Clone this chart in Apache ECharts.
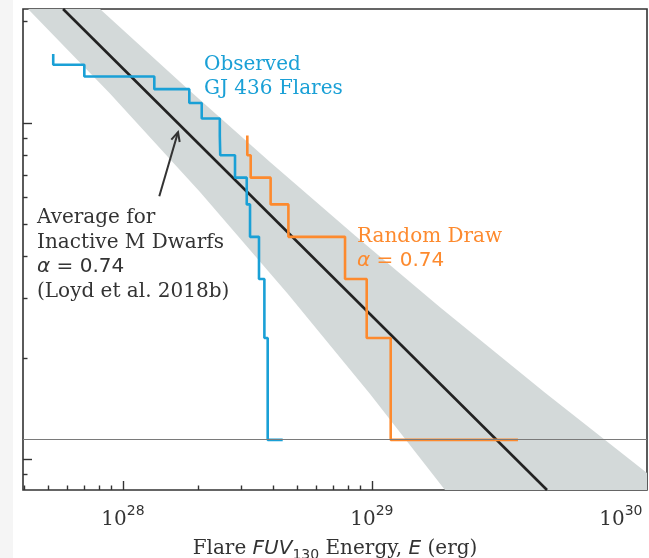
<!DOCTYPE html>
<html><head><meta charset="utf-8">
<script src="https://cdn.jsdelivr.net/npm/echarts@6/dist/echarts.min.js"></script>
<style>html,body{margin:0;padding:0;background:#fff}#c{width:649px;height:558px}</style>
</head><body><div id="c"></div><script>
// ---- data (energies in erg, cumulative frequencies in d^-1) ----
const xMajorTicks = [1e28, 1e29, 1e30];
const xTickExponents = ['28', '29', '30'];
const yMajorTicks = [1, 10];
const xRange = [3.97e27, 1.273e30];
const yRange = [0.809, 21.8];

const obsEnergy = [5.25e27, 7.0e27, 1.337e28, 1.848e28, 2.073e28, 2.45e28, 2.46e28, 2.82e28, 3.143e28, 3.24e28, 3.52e28, 3.70e28, 3.815e28, 4.383e28];
const obsFreq   = [16.02, 14.88, 13.73, 12.59, 11.45, 10.30, 9.16, 8.01, 6.87, 5.72, 4.58, 3.43, 2.29, 1.14];

const drawEnergy = [3.16e28, 3.26e28, 3.92e28, 4.62e28, 7.80e28, 9.53e28, 1.19e29, 3.86e29];
const drawFreq   = [9.16, 8.01, 6.87, 5.72, 4.58, 3.43, 2.29, 1.14];

const avgEnergy = [5.75e27, 5.05e29];
const avgFreq   = [21.8, 0.809];

// band outline (upper edge left->right, corner, lower edge right->left)
const bandEnergy = [8.09e27, 1.776e28, 3.897e28, 8.55e28, 1.877e29, 4.96e29, 1.273e30, 1.273e30, 1.966e29, 9.83e28, 4.60e28, 2.04e28, 8.87e27, 4.16e27];
const bandFreq   = [21.8, 12.82, 7.64, 4.62, 2.83, 1.575, 0.909, 0.809, 0.809, 1.561, 3.097, 6.23, 12.22, 21.8];

const singleFlareFreq = 1.1445;
const arrowEnergy = [1.40e28, 1.665e28];
const arrowFreq   = [6.05, 9.38];

// ---- chart ----
const L = Math.log10;
const minorList = (lo, hi) => { const out = []; for (let n = -2; n <= 31; n++) for (let k = 2; k <= 9; k++) { const v = L(k) + n; if (v > lo && v < hi) out.push(v); } return out; };
const xMin = L(xRange[0]), xMax = L(xRange[1]), yMin = L(yRange[0]), yMax = L(yRange[1]);
const tickStyle = {color: '#333', width: 1.4};
const serif = 'DejaVu Serif', sans = 'DejaVu Sans';
const noLine = {show: false, onZero: false};

const chart = echarts.init(document.getElementById('c'), null, {renderer: 'canvas'});
const option = {
  animation: false,
  backgroundColor: '#fff',
  grid: {left: 23, right: 2, top: 9, bottom: 68, show: true, borderColor: '#333', borderWidth: 1.6,
         backgroundColor: 'transparent', containLabel: false, outerBoundsMode: 'none'},
  xAxis: [
    {type: 'value', min: xMin, max: xMax, position: 'bottom', axisLine: noLine, splitLine: {show: false},
     axisTick: {show: true, inside: true, length: 9, lineStyle: tickStyle, customValues: xMajorTicks.map(L)},
     axisLabel: {show: true, margin: 14, customValues: xMajorTicks.map(L),
       formatter: v => '{b|10}{s|' + xTickExponents[xMajorTicks.map(L).findIndex(t => Math.abs(t - v) < 1e-6)] + '}',
       rich: {b: {fontFamily: serif, fontSize: 20, color: '#333', lineHeight: 26, verticalAlign: 'bottom'},
              s: {fontFamily: sans, fontSize: 14, color: '#333', lineHeight: 26, verticalAlign: 'top'}}},
     name: '{a|Flare }{i|FUV}{u|130}{a| Energy, }{i|E}{a| (erg)}', nameLocation: 'middle', nameGap: 46,
     nameTextStyle: {rich: {a: {fontFamily: serif, fontSize: 20, color: '#333', lineHeight: 26},
                            i: {fontFamily: sans, fontStyle: 'italic', fontSize: 20, color: '#333', lineHeight: 26},
                            u: {fontFamily: sans, fontSize: 14, color: '#333', lineHeight: 14, verticalAlign: 'bottom'}}}},
    {type: 'value', min: xMin, max: xMax, position: 'bottom', axisLine: noLine, splitLine: {show: false},
     axisTick: {show: true, inside: true, length: 4.5, lineStyle: tickStyle, customValues: minorList(xMin, xMax)},
     axisLabel: {show: false}}
  ],
  yAxis: [
    {type: 'value', min: yMin, max: yMax, position: 'left', axisLine: noLine, splitLine: {show: false},
     axisTick: {show: true, inside: true, length: 9, lineStyle: tickStyle, customValues: yMajorTicks.map(L)},
     axisLabel: {show: false}},
    {type: 'value', min: yMin, max: yMax, position: 'left', axisLine: noLine, splitLine: {show: false},
     axisTick: {show: true, inside: true, length: 4.5, lineStyle: tickStyle, customValues: minorList(yMin, yMax)},
     axisLabel: {show: false}}
  ],
  series: [
    {type: 'custom', name: 'band', silent: true, z: 1, clip: true,
     data: [[L(bandEnergy[0]), L(bandFreq[0])]],
     renderItem: (params, api) => ({type: 'polygon', shape: {points: bandEnergy.map((e, i) => api.coord([L(e), L(bandFreq[i])])), smooth: 0},
                                    style: {fill: '#d3d9d9'}})},
    {type: 'line', name: 'single', silent: true, z: 2, data: [], symbol: 'none',
     markLine: {silent: true, symbol: 'none', label: {show: false}, lineStyle: {color: '#7a7a7a', width: 1, type: 'solid'},
                data: [{yAxis: L(singleFlareFreq)}]}},
    {type: 'line', name: 'average', z: 3, symbol: 'none', lineStyle: {color: '#222', width: 2.6},
     data: avgEnergy.map((e, i) => [L(e), L(avgFreq[i])])},
    {type: 'line', name: 'observed', z: 4, symbol: 'none', step: 'start', lineStyle: {color: '#1aa0d6', width: 2.6},
     data: obsEnergy.map((e, i) => [L(e), L(obsFreq[i])])},
    {type: 'line', name: 'draw', z: 4, symbol: 'none', step: 'start', lineStyle: {color: '#fd8a2e', width: 2.6},
     data: drawEnergy.map((e, i) => [L(e), L(drawFreq[i])])},
    {type: 'custom', name: 'arrow', silent: true, z: 5,
     data: [[L(arrowEnergy[0]), L(arrowFreq[0])]],
     renderItem: (params, api) => {
       const p0 = api.coord([L(arrowEnergy[0]), L(arrowFreq[0])]);
       const p1 = api.coord([L(arrowEnergy[1]), L(arrowFreq[1])]);
       const ang = Math.atan2(p1[1] - p0[1], p1[0] - p0[0]);
       const h = 10, w = 0.45;
       const a = [p1[0] - h * Math.cos(ang - w), p1[1] - h * Math.sin(ang - w)];
       const b = [p1[0] - h * Math.cos(ang + w), p1[1] - h * Math.sin(ang + w)];
       const st = {stroke: '#333', lineWidth: 2, fill: null};
       return {type: 'group', children: [
         {type: 'polyline', shape: {points: [p0, p1]}, style: st},
         {type: 'polyline', shape: {points: [a, p1, b]}, style: st}
       ]};
     }}
  ],
  graphic: [
    {type: 'rect', shape: {x: 0, y: 0, width: 13, height: 558}, style: {fill: '#f5f5f5'}, z: -10},
    {type: 'text', x: 204, y: 53, z: 10, style: {text: 'Observed\nGJ 436 Flares', font: '20px "DejaVu Serif"', fill: '#1aa0d6', lineHeight: 24}},
    {type: 'text', x: 357, y: 225, z: 10, style: {text: '{t|Random Draw}\n{i|α}{m| = 0.74}', fill: '#fd8a2e',
      rich: {t: {fontFamily: serif, fontSize: 20, lineHeight: 24, fill: '#fd8a2e'},
             i: {fontFamily: sans, fontStyle: 'italic', fontSize: 20, lineHeight: 24, fill: '#fd8a2e'},
             m: {fontFamily: sans, fontSize: 20, lineHeight: 24, fill: '#fd8a2e'}}}},
    {type: 'text', x: 37, y: 206, z: 10, style: {text: '{t|Average for}\n{t|Inactive M Dwarfs}\n{i|α}{m| = 0.74}\n{t|(Loyd et al. 2018b)}', fill: '#333',
      rich: {t: {fontFamily: serif, fontSize: 20, lineHeight: 24.5, fill: '#333'},
             i: {fontFamily: sans, fontStyle: 'italic', fontSize: 20, lineHeight: 24.5, fill: '#333'},
             m: {fontFamily: sans, fontSize: 20, lineHeight: 24.5, fill: '#333'}}}}
  ]
};
chart.setOption(option);
</script></body></html>
